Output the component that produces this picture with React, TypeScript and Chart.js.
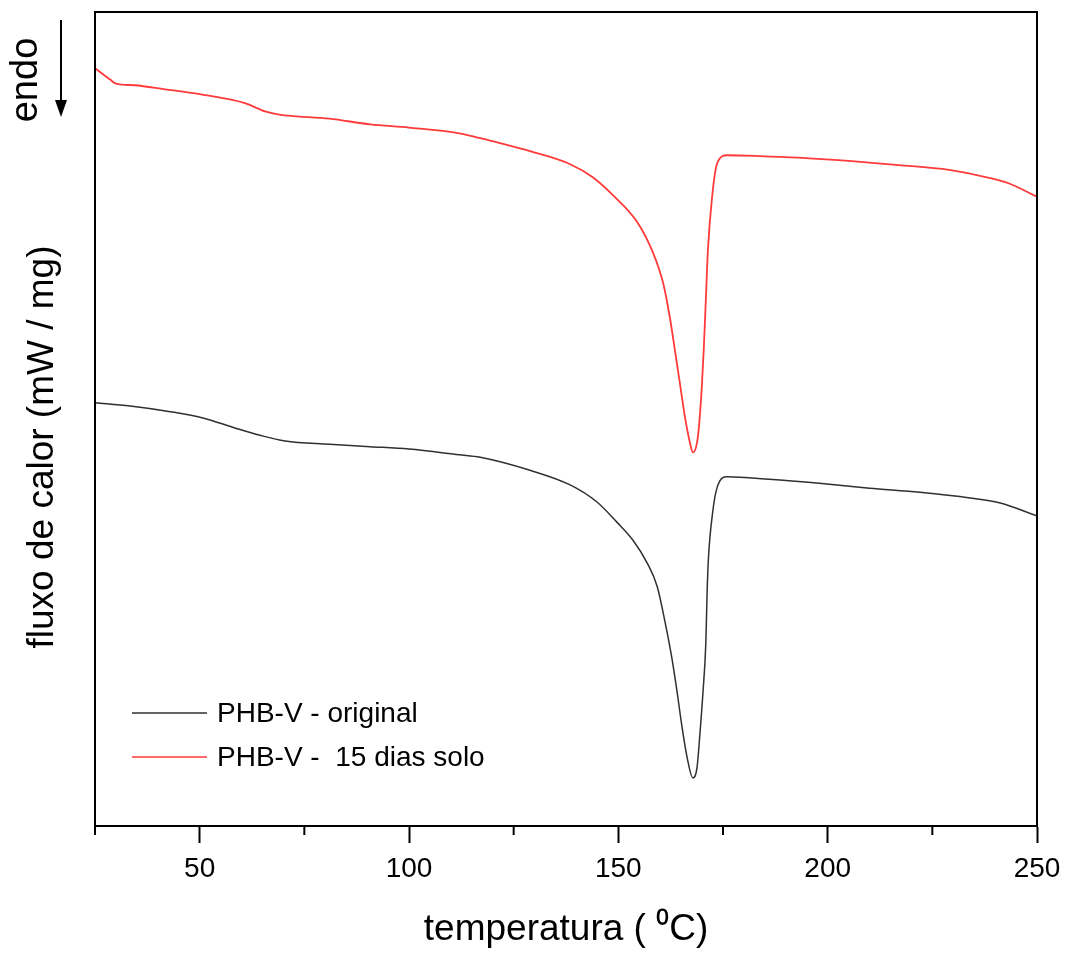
import React, { useEffect, useRef } from "react";
import { Chart, registerables } from "chart.js";

Chart.register(...registerables);

// Temperature (°C) and heat flow (arbitrary units)
const originalTemp = [25, 33.4, 43, 51, 58.4, 64.4, 70.4, 81, 90.7, 100, 112, 117, 128.9, 138.5, 144.9, 149.7, 153.5, 156.9, 159.3, 161.1, 162.8, 164.0, 165.2, 166.4, 167.8, 168.8, 169.5, 170.2, 170.9, 171.2, 171.5, 172.6, 173.6, 176, 186, 198, 210, 222, 234, 241, 250];
const originalFlow = [5.20, 5.16, 5.09, 5.01, 4.89, 4.80, 4.73, 4.69, 4.66, 4.63, 4.56, 4.53, 4.37, 4.19, 3.98, 3.73, 3.51, 3.23, 2.94, 2.52, 2.06, 1.66, 1.22, 0.85, 0.59, 0.72, 1.14, 1.63, 2.25, 2.86, 3.27, 3.88, 4.16, 4.29, 4.26, 4.21, 4.15, 4.10, 4.03, 3.97, 3.81];

const soloTemp = [25, 28.6, 30, 34.5, 41.7, 50, 60.8, 65.6, 69, 81, 90.7, 100, 112, 117, 121.7, 128.9, 138.5, 143.9, 148.7, 154.5, 158.3, 160.7, 162.3, 163.5, 164.7, 165.9, 167.1, 167.8, 169.0, 169.9, 170.4, 170.9, 171.4, 172.4, 173.6, 176, 183.8, 193, 205, 217, 229, 238.8, 243.5, 250];
const soloFlow = [9.31, 9.17, 9.12, 9.10, 9.05, 8.99, 8.88, 8.78, 8.74, 8.69, 8.62, 8.58, 8.51, 8.45, 8.39, 8.29, 8.13, 7.97, 7.75, 7.42, 7.04, 6.67, 6.25, 5.85, 5.44, 5.03, 4.71, 4.59, 4.78, 5.36, 5.85, 6.46, 7.08, 7.73, 8.14, 8.24, 8.23, 8.21, 8.17, 8.12, 8.06, 7.96, 7.89, 7.73];

const seriesLabels = ["PHB-V - original", "PHB-V -  15 dias solo"];
const seriesColors = ["#303030", "#ff3a3a"];
const seriesWidths = [1.5, 1.8];
const minorTicks = [25, 75, 125, 175, 225];
const xTitle = "temperatura ( \u2070C)";
const yTitle = "fluxo de calor (mW / mg)";
const endoLabel = "endo";

const FONT = "'Liberation Sans', Arial, sans-serif";

const decor = {
  id: "decor",
  afterDraw(chart: any) {
    const { ctx, chartArea: a, scales } = chart;
    const xs = scales.x;
    ctx.save();
    ctx.strokeStyle = "#000";
    ctx.lineWidth = 2;
    ctx.strokeRect(a.left, a.top, a.right - a.left, a.bottom - a.top);
    // minor ticks
    for (const v of minorTicks) {
      const px = xs.getPixelForValue(v);
      ctx.beginPath();
      ctx.moveTo(px, a.bottom);
      ctx.lineTo(px, a.bottom + 9);
      ctx.stroke();
    }
    // legend
    ctx.font = `28px ${FONT}`;
    ctx.textBaseline = "middle";
    ctx.textAlign = "left";
    chart.data.datasets.forEach((ds: any, i: number) => {
      const y = a.top + 701 + i * 44;
      ctx.strokeStyle = ds.borderColor;
      ctx.lineWidth = 1.5;
      ctx.beginPath();
      ctx.moveTo(a.left + 37, y);
      ctx.lineTo(a.left + 112, y);
      ctx.stroke();
      ctx.fillStyle = "#000";
      ctx.fillText(ds.label, a.left + 122, y + 1);
    });
    // y title
    ctx.save();
    ctx.translate(43, 447);
    ctx.rotate(-Math.PI / 2);
    ctx.font = `37px ${FONT}`;
    ctx.textAlign = "center";
    ctx.textBaseline = "middle";
    ctx.fillStyle = "#000";
    ctx.fillText(yTitle, 0, 0);
    ctx.restore();
    // endo label
    ctx.save();
    ctx.translate(37, 80);
    ctx.rotate(-Math.PI / 2);
    ctx.font = `38px ${FONT}`;
    ctx.textAlign = "center";
    ctx.textBaseline = "alphabetic";
    ctx.fillStyle = "#000";
    ctx.fillText(endoLabel, 0, 0);
    ctx.restore();
    // arrow
    ctx.strokeStyle = "#000";
    ctx.fillStyle = "#000";
    ctx.lineWidth = 2;
    ctx.beginPath();
    ctx.moveTo(61, 20);
    ctx.lineTo(61, 104);
    ctx.stroke();
    ctx.beginPath();
    ctx.moveTo(55, 100);
    ctx.lineTo(67, 100);
    ctx.lineTo(61, 117);
    ctx.closePath();
    ctx.fill();
    ctx.restore();
  },
};

export default function App() {
  const ref = useRef<HTMLCanvasElement | null>(null);
  useEffect(() => {
    if (!ref.current) return;
    const chart = new Chart(ref.current, {
      type: "line",
      data: {
        datasets: [
          {
            label: seriesLabels[0],
            data: originalTemp.map((t, i) => ({ x: t, y: originalFlow[i] })),
            borderColor: seriesColors[0],
            borderWidth: seriesWidths[0],
            pointRadius: 0,
            cubicInterpolationMode: "monotone",
          },
          {
            label: seriesLabels[1],
            data: soloTemp.map((t, i) => ({ x: t, y: soloFlow[i] })),
            borderColor: seriesColors[1],
            borderWidth: seriesWidths[1],
            pointRadius: 0,
            cubicInterpolationMode: "monotone",
          },
        ],
      },
      options: {
        responsive: false,
        animation: false,
        devicePixelRatio: 1,
        layout: { padding: { left: 95, top: 12, right: 29, bottom: 2 } },
        plugins: { legend: { display: false }, tooltip: { enabled: false } },
        scales: {
          x: {
            type: "linear",
            min: 25,
            max: 250,
            afterFit: (s: any) => {
              s.paddingRight = 0;
              s.paddingLeft = 0;
            },
            border: { display: true, color: "#000", width: 2 },
            grid: {
              display: true,
              drawOnChartArea: false,
              drawTicks: true,
              tickLength: 17,
              tickWidth: 2,
              tickColor: (c: any) => (c.tick && c.tick.value % 50 === 0 ? "#000" : "rgba(0,0,0,0)"),
            },
            ticks: {
              stepSize: 25,
              autoSkip: false,
              maxRotation: 0,
              padding: 9,
              color: "#000",
              font: { family: FONT, size: 28 },
              callback: (v: any) => (Number(v) % 50 === 0 ? String(v) : ""),
            },
            title: {
              display: true,
              text: xTitle,
              color: "#000",
              font: { family: FONT, size: 37 },
              padding: { top: 13, bottom: 0 },
            },
          },
          y: { display: false, min: 0, max: 10 },
        },
      },
      plugins: [decor],
    });
    return () => chart.destroy();
  }, []);
  return (
    <div style={{ position: "fixed", left: 0, top: 0, width: 1066, height: 954, background: "#fff" }}>
      <canvas ref={ref} width={1066} height={954} />
    </div>
  );
}
